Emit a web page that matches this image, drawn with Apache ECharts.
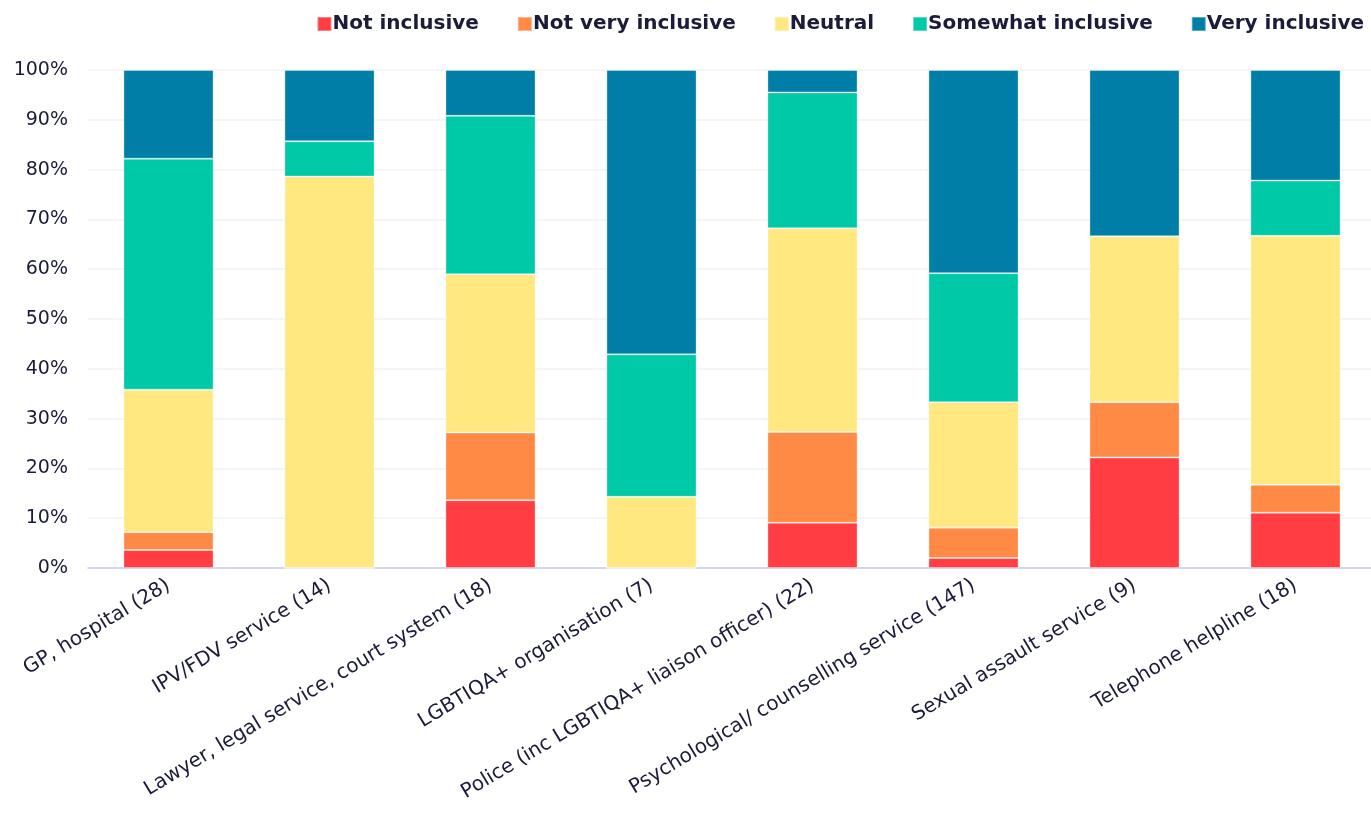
<!DOCTYPE html>
<html>
<head>
<meta charset="utf-8">
<script src="https://cdn.jsdelivr.net/npm/echarts@6/dist/echarts.min.js"></script>
<style>
html, body { margin: 0; padding: 0; background: #fff; }
#chart { width: 1371px; height: 819px; }
</style>
</head>
<body>
<div id="chart"></div>
<script>
var categories = ['GP, hospital (28)', 'IPV/FDV service (14)', 'Lawyer, legal service, court system (18)',
	'LGBTIQA+ organisation (7)', 'Police (inc LGBTIQA+ liaison officer) (22)', 'Psychological/ counselling service (147)',
	'Sexual assault service (9)', 'Telephone helpline (18)'];
var seriesNames = ['Not inclusive', 'Not very inclusive', 'Neutral', 'Somewhat inclusive', 'Very inclusive'];
var notInclusive = [3.6, 0, 13.6, 0, 9.1, 2.0, 22.2, 11.1];
var notVeryInclusive = [3.6, 0, 13.6, 0, 18.2, 6.1, 11.1, 5.6];
var neutral = [28.6, 78.6, 31.8, 14.3, 40.9, 25.2, 33.3, 50.0];
var somewhatInclusive = [46.4, 7.1, 31.8, 28.6, 27.3, 25.9, 0, 11.1];
var veryInclusive = [17.8, 14.3, 9.2, 57.1, 4.5, 40.8, 33.4, 22.2];
var colors = ['#FF3D42', '#FF8A45', '#FFE87F', '#00C9A7', '#007EA7'];

var chart = echarts.init(document.getElementById('chart'));
var textColor = '#1B1B3A';
var font = 'DejaVu Sans';
var allData = [notInclusive, notVeryInclusive, neutral, somewhatInclusive, veryInclusive];
var series = [];
for (var i in seriesNames) {
	series.push({
		name: seriesNames[i],
		type: 'bar',
		stack: 'total',
		barWidth: '56%',
		data: allData[i],
		itemStyle: { color: colors[i], borderColor: 'rgba(255,255,255,0.35)', borderWidth: 1 }
	});
}

var option = {
	animation: false,
	color: colors,
	legend: {
		data: seriesNames,
		top: 9,
		right: 2,
		itemWidth: 14,
		itemHeight: 14,
		itemGap: 38,
		icon: 'rect',
		textStyle: { color: textColor, fontFamily: font, fontWeight: 'bold', fontSize: 20, padding: [0, 0, 0, -4] }
	},
	grid: { left: 88, right: -5, top: 70, bottom: 251, outerBoundsMode: 'none' },
	xAxis: {
		type: 'category',
		data: categories,
		axisLine: { lineStyle: { color: '#C9C9F0', width: 1.5 } },
		axisTick: { show: false },
		axisLabel: { rotate: 31, interval: 0, color: textColor, fontFamily: font, fontSize: 20, margin: 16 }
	},
	yAxis: {
		type: 'value',
		min: 0,
		max: 100,
		interval: 10,
		axisLabel: { formatter: '{value}%', color: textColor, fontFamily: font, fontSize: 19, margin: 20 },
		splitLine: { lineStyle: { color: '#F2F2F2', width: 1.5 } }
	},
	series: series
};
chart.setOption(option);
</script>
</body>
</html>
